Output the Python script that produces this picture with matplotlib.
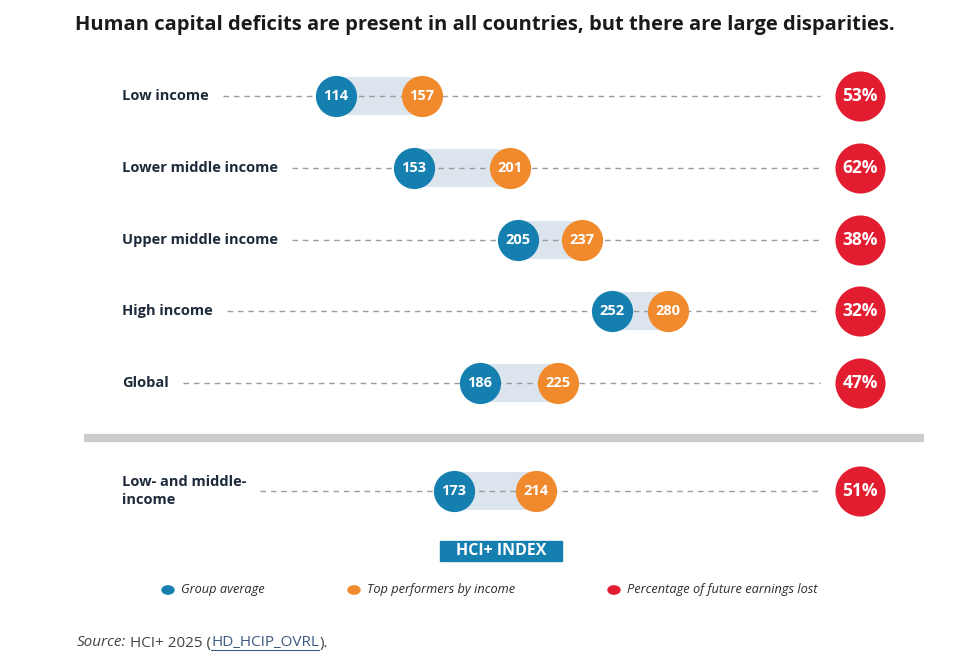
import matplotlib
matplotlib.use('Agg')
import matplotlib.pyplot as plt

# data
groups = ['Low income', 'Lower middle income', 'Upper middle income',
          'High income', 'Global', 'Low- and middle-\nincome']
group_avg = [114, 153, 205, 252, 186, 173]
top_perf = [157, 201, 237, 280, 225, 214]
earnings_lost = [53, 62, 38, 32, 47, 51]

BLUE = '#1580b0'
ORANGE = '#f08a2c'
RED = '#e21d30'
BAND = '#dce5ed'
DARK = '#1e2b3a'

plt.rcParams['font.family'] = ['Open Sans', 'DejaVu Sans']

W, H = 960, 658
fig = plt.figure(figsize=(W / 100, H / 100), dpi=100)
ax = fig.add_axes([0, 0, 1, 1])
ax.axis('off')
# x in HCI+ units, y in row index (last row sits below the separator)
ax.set_xlim(-54, 426)
ax.set_ylim(7.827, -1.337)
rows = [0, 1, 2, 3, 4, 5.5]
red_x = 376
line_end = 356

labels = []
for y, g in zip(rows, groups):
    t = ax.text(7, y, g, ha='left', va='center', fontsize=10.5, fontweight='bold',
                color=DARK, linespacing=1.3)
    labels.append(t)

fig.canvas.draw()
r = fig.canvas.get_renderer()
inv = ax.transData.inverted()
for y, t in zip(rows, labels):
    bb = t.get_window_extent(r)
    x0 = inv.transform((bb.x1 + 14, 0))[0]
    ax.plot([x0, line_end], [y, y], color='#9c9c9c', lw=1, ls=(0, (4, 3.5)), zorder=2)

ax.barh(rows, [t - a for a, t in zip(group_avg, top_perf)], left=group_avg,
        height=0.53, color=BAND, zorder=1)

ax.scatter(group_avg, rows, s=880, color=BLUE, zorder=3, linewidths=0)
ax.scatter(top_perf, rows, s=880, color=ORANGE, zorder=3, linewidths=0)
ax.scatter([red_x] * len(rows), rows, s=1300, color=RED, zorder=3, linewidths=0)
for y, a, t, p in zip(rows, group_avg, top_perf, earnings_lost):
    ax.text(a, y, str(a), ha='center', va='center', color='white',
            fontsize=10.5, fontweight='bold', zorder=4)
    ax.text(t, y, str(t), ha='center', va='center', color='white',
            fontsize=10.5, fontweight='bold', zorder=4)
    ax.text(red_x, y, f'{p}%', ha='center', va='center', color='white',
            fontsize=12.5, fontweight='bold', zorder=4)

# separator
ax.plot([-12, 408], [4.76, 4.76], color='#cccccc', lw=6, solid_capstyle='butt')

# title
fig.text(485 / W, 1 - 25 / H,
         'Human capital deficits are present in all countries, but there are large disparities.',
         ha='center', va='center', fontsize=14.5, fontweight='bold', color='#1a1a1a')

# axis badge
fig.add_artist(plt.Rectangle((440 / W, 1 - 561 / H), 122 / W, 20 / H, color=BLUE,
                             transform=fig.transFigure))
fig.text(501 / W, 1 - 551 / H, 'HCI+ INDEX', ha='center', va='center', fontsize=11.5,
         fontweight='bold', color='white')

# legend
for lx, col, txt in [(168, BLUE, 'Group average'),
                     (354, ORANGE, 'Top performers by income'),
                     (614, RED, 'Percentage of future earnings lost')]:
    fig.patches.append(plt.Circle((lx / W, 1 - 590 / H), 6 / W, color=col,
                                  transform=fig.transFigure, figure=fig))
    fig.text((lx + 13) / W, 1 - 590 / H, txt, ha='left', va='center',
             fontsize=9.2, style='italic', color='#2b2b2b')

# source line
sx = 77
parts = [('Source:', 'italic', '#444444', False), (' HCI+ 2025 (', 'normal', '#444444', False),
         ('HD_HCIP_OVRL', 'normal', '#3d5a80', True), (').', 'normal', '#444444', False)]
for txt, st, col, ul in parts:
    t = fig.text(sx / W, 1 - 643 / H, txt, ha='left', va='center', fontsize=11,
                 style=st, color=col)
    bb = t.get_window_extent(r)
    if ul:
        fig.add_artist(plt.Line2D([bb.x0 / W, bb.x1 / W], [(bb.y0 + 1) / H] * 2,
                                  color=col, lw=0.8, transform=fig.transFigure))
    sx = bb.x1

fig.savefig('out.png', dpi=100, facecolor='white')
